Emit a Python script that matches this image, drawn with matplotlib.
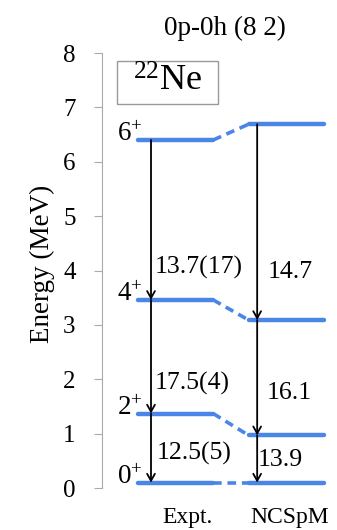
import matplotlib
matplotlib.use("Agg")
import matplotlib.pyplot as plt
from matplotlib.patches import Rectangle

plt.rcParams['font.family'] = ['Liberation Serif', 'DejaVu Serif']
plt.rcParams['mathtext.fontset'] = 'custom'
plt.rcParams['mathtext.rm'] = 'Liberation Serif'
plt.rcParams['mathtext.it'] = 'Liberation Serif:italic'

# ---- data ----
models = ["Expt.", "NCSpM"]
spins = ["0", "2", "4", "6"]
expt_energy = [0.10, 1.37, 3.46, 6.40]
ncspm_energy = [0.10, 0.97, 3.09, 6.69]
expt_be2 = ["12.5(5)", "17.5(4)", "13.7(17)"]   # 2->0, 4->2, 6->4
ncspm_be2 = ["13.9", "16.1", "14.7"]
title = "0p-0h (8 2)"
nucleus = "22Ne"
yticks = [0, 1, 2, 3, 4, 5, 6, 7, 8]

# ---- layout ----
BLUE = '#4a86e8'
fig = plt.figure(figsize=(3.37, 5.30), dpi=100)
ax = fig.add_axes([0.3027, 0.0792, 0.677, 0.8208])
ax.set_xlim(-0.665, 1.398)
ax.set_ylim(0, 8)

half = 0.34
levels = [expt_energy, ncspm_energy]
for i, en in enumerate(levels):
    for e in en:
        ax.plot([i - half, i + half], [e, e], color=BLUE, lw=3.2,
                solid_capstyle='round')
for e0, e1 in zip(expt_energy, ncspm_energy):
    ax.plot([half, 1 - half], [e0, e1], color=BLUE, lw=2.6,
            ls=(0, (2.4, 1.6)))

arrow_x = [-0.222, 0.738]
for xa, en in zip(arrow_x, levels):
    for k in range(len(en) - 1, 0, -1):
        ax.annotate('', xy=(xa, en[k - 1]), xytext=(xa, en[k]),
                    arrowprops=dict(arrowstyle='->,head_length=0.5,head_width=0.28',
                                    lw=1.3, color='black',
                                    shrinkA=0, shrinkB=0))

# spin labels
for s, e in zip(spins, expt_energy):
    ax.text(-0.30, e - 0.02, s + r'$^{+}$', ha='right', va='baseline', fontsize=19.5)

# transition labels
expt_lbl_x = [-0.170, -0.186, -0.186]
expt_lbl_y = [0.64, 1.93, 4.06]
ncs_lbl_x = [0.745, 0.828, 0.837]
ncs_lbl_y = [0.51, 1.75, 3.97]
for t, xx, yy in zip(expt_be2, expt_lbl_x, expt_lbl_y):
    ax.text(xx, yy, t, ha='left', va='center', fontsize=18.5)
for t, xx, yy in zip(ncspm_be2, ncs_lbl_x, ncs_lbl_y):
    ax.text(xx, yy, t, ha='left', va='center', fontsize=18.5)

# nucleus box
ax.text(-0.072, 7.47, r'$^{22}$' + nucleus[2:], ha='center', va='center',
        fontsize=26)
ax.add_patch(Rectangle((-0.53, 7.07), 0.914, 0.79, fill=False,
                       edgecolor='#999999', lw=1.0))

# axes styling
for sp in ['top', 'right', 'bottom']:
    ax.spines[sp].set_visible(False)
ax.spines['left'].set_color('#aaaaaa')
ax.set_yticks(yticks)
ax.tick_params(axis='y', colors='#aaaaaa', length=6, pad=13, labelsize=18,
               labelcolor='black')
ax.set_xticks([0.105, 1.03])
ax.set_xticklabels(models, fontsize=17)
ax.tick_params(axis='x', length=0, pad=14)
ax.set_ylabel("Energy (MeV)", fontsize=19.5)
ax.yaxis.set_label_coords(-0.205, 0.515)

fig.text(0.667, 0.947, title, ha='center', va='center', fontsize=19.5)

fig.savefig("out.png", dpi=100)
